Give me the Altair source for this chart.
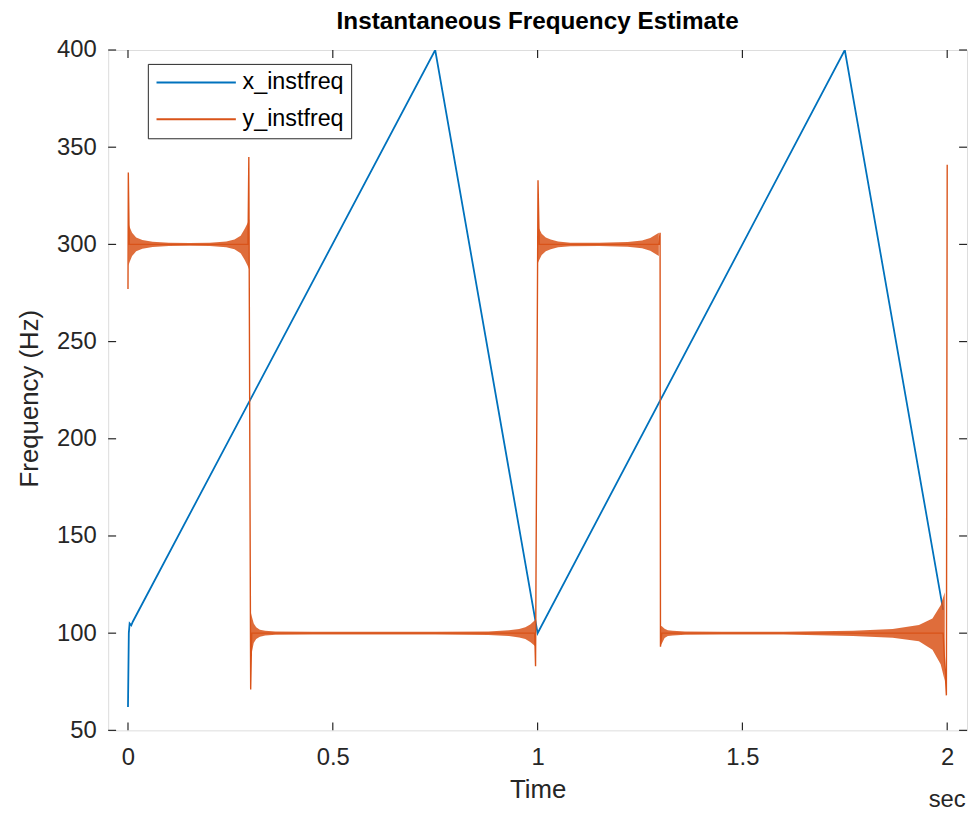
import altair as alt
import pandas as pd

FONT = "Liberation Sans"
AX = "#262626"
BLUE = "#0072BD"
ORANGE = "#D95319"

# ---- data ----
x_time = [0.000, 0.002, 0.004, 0.008, 0.012, 0.750, 1.000, 1.750, 1.990]
x_freq = [62, 100, 105, 104, 106, 400, 100, 400, 112]

y_time = [0.000, 0.0008, 0.003, 0.293, 0.295, 0.2995, 0.302, 0.993, 0.995, 1.001, 1.004,
          1.296, 1.299, 1.300, 1.303, 1.990, 1.998, 2.000]
y_freq = [277, 337, 300, 300, 345, 71, 100, 100, 83, 333, 300,
          300, 306, 93, 100, 100, 68, 341]

# envelopes of the fast ripple around the y_instfreq plateaus
bandA_t = [0.001, 0.004, 0.010, 0.020, 0.035, 0.060, 0.100, 0.150, 0.200, 0.240, 0.260, 0.275, 0.285, 0.292, 0.296]
bandA_hi = [311, 309, 306, 303.5, 302.2, 301.3, 300.8, 300.7, 300.8, 301.5, 302.5, 304.5, 308, 311, 313]
bandA_lo = [289, 291, 294, 296.5, 297.8, 298.7, 299.2, 299.3, 299.2, 298.5, 297.5, 295.5, 292, 289, 287]

bandB_t = [0.2995, 0.303, 0.307, 0.313, 0.322, 0.335, 0.360, 0.450, 0.600, 0.750, 0.880, 0.930, 0.955, 0.970, 0.982, 0.990, 0.995]
bandB_hi = [111, 108, 105, 103, 101.8, 101.2, 100.8, 100.7, 100.7, 100.7, 100.9, 101.5, 102.2, 103, 104.5, 106, 107]
bandB_lo = [87, 91, 95, 97, 98.2, 98.8, 99.2, 99.3, 99.3, 99.3, 99.1, 98.5, 97.8, 97, 95.5, 94, 93]

bandC_t = [1.001, 1.004, 1.010, 1.020, 1.032, 1.050, 1.080, 1.150, 1.220, 1.255, 1.275, 1.288, 1.296]
bandC_hi = [309, 308, 305.5, 303.5, 302.5, 301.5, 300.9, 300.8, 301.2, 302, 303.3, 305, 306]
bandC_lo = [290.5, 292, 294.5, 296.5, 297.5, 298.5, 299.1, 299.2, 298.8, 298, 296.7, 295, 294]

bandD_t = [1.300, 1.304, 1.310, 1.318, 1.330, 1.360, 1.450, 1.600, 1.770, 1.867, 1.931, 1.964, 1.984, 1.994]
bandD_hi = [104, 103.4, 102.3, 101.5, 101.2, 100.8, 100.7, 100.7, 101.2, 102.2, 104.2, 107.6, 114.4, 121]
bandD_lo = [93.5, 95, 97.5, 98.5, 98.8, 99.2, 99.3, 99.3, 98.6, 97.6, 95.9, 91.5, 84, 75.5]

series_names = ["x_instfreq", "y_instfreq"]
x_ticks = [0, 0.5, 1, 1.5, 2]
y_ticks = [50, 100, 150, 200, 250, 300, 350, 400]
x_domain = [-0.0484, 2.0484]
y_domain = [50, 400]

# ---- tables ----
blue_df = pd.DataFrame({"t": x_time, "f": x_freq, "series": series_names[0]})
blue_df["i"] = range(len(blue_df))
orange_df = pd.DataFrame({"t": y_time, "f": y_freq, "series": series_names[1]})
orange_df["i"] = range(len(orange_df))

bands = []
for name, t, hi, lo in [("A", bandA_t, bandA_hi, bandA_lo), ("B", bandB_t, bandB_hi, bandB_lo),
                        ("C", bandC_t, bandC_hi, bandC_lo), ("D", bandD_t, bandD_hi, bandD_lo)]:
    bands.append(pd.DataFrame({"t": t, "hi": hi, "lo": lo, "seg": name}))
band_df = pd.concat(bands, ignore_index=True)

xt_df = pd.DataFrame({"v": x_ticks})
yt_df = pd.DataFrame({"v": y_ticks})
unit_df = pd.DataFrame({"t": [2.0], "label": ["sec"]})

W, H = 866, 686

xscale = alt.Scale(domain=x_domain, nice=False, zero=False)
yscale = alt.Scale(domain=y_domain, nice=False, zero=False)

xaxis = alt.Axis(values=x_ticks, domain=False, ticks=False, grid=False, labelFont=FONT,
                 labelFontSize=24, labelColor=AX, labelPadding=15, labelFlush=False,
                 labelOverlap=False, title="Time", titleFont=FONT, titleFontSize=26,
                 titleFontWeight="normal", titleColor=AX, titleBaseline="middle",
                 titleY=60, format="")
yaxis = alt.Axis(values=y_ticks, domain=False, ticks=False, grid=False, labelFont=FONT,
                 labelFontSize=24, labelColor=AX, labelPadding=12, labelFlush=False,
                 labelOverlap=False, title="Frequency (Hz)", titleFont=FONT, titleFontSize=26,
                 titleFontWeight="normal", titleColor=AX, titleAngle=-90,
                 titleBaseline="middle", titleAlign="center", titleX=-79, titleY=H / 2 + 8)


def X(field="t"):
    return alt.X(f"{field}:Q", scale=xscale, axis=xaxis)


def Y(field="f"):
    return alt.Y(f"{field}:Q", scale=yscale, axis=yaxis)


color = alt.Color("series:N", scale=alt.Scale(domain=series_names, range=[BLUE, ORANGE]),
                  legend=alt.Legend(title=None, orient="none", legendX=40, legendY=14,
                                    symbolType="M-1,0H7", symbolSize=400, symbolStrokeWidth=2,
                                    labelFont=FONT, labelFontSize=23.5, labelColor="#000",
                                    labelOffset=65, strokeColor=AX, fillColor="white",
                                    padding=7, rowPadding=12))

blue = alt.Chart(blue_df).mark_line(strokeWidth=1.8, clip=True).encode(
    x=X(), y=Y(), color=color, order="i:Q")

band = alt.Chart(band_df).mark_area(color=ORANGE, opacity=0.85, clip=True).encode(
    x=X(), y=Y("hi"), y2="lo:Q", detail="seg:N")

orange = alt.Chart(orange_df).mark_line(strokeWidth=1.4, clip=True).encode(
    x=X(), y=Y(), color=color, order="i:Q")

tick_x_bot = alt.Chart(xt_df).mark_rule(color=AX, strokeWidth=1.2).encode(
    x=X("v"), y=alt.value(H), y2=alt.value(H - 8))
tick_x_top = alt.Chart(xt_df).mark_rule(color=AX, strokeWidth=1.2).encode(
    x=X("v"), y=alt.value(0), y2=alt.value(8))
tick_y_left = alt.Chart(yt_df).mark_rule(color=AX, strokeWidth=1.2).encode(
    y=Y("v"), x=alt.value(0), x2=alt.value(8))
tick_y_right = alt.Chart(yt_df).mark_rule(color=AX, strokeWidth=1.2).encode(
    y=Y("v"), x=alt.value(W), x2=alt.value(W - 8))

unit = alt.Chart(unit_df).mark_text(font=FONT, fontSize=24, color=AX, baseline="middle").encode(
    x=X(), y=alt.value(H + 70), text="label:N")

chart = alt.layer(blue, band, orange, tick_x_bot, tick_x_top, tick_y_left, tick_y_right, unit).properties(
    width=W, height=H,
    title=alt.Title("Instantaneous Frequency Estimate", font=FONT, fontSize=24.5, fontWeight="bold",
                    color="#000", anchor="middle", offset=4),
    autosize=alt.AutoSizeParams(type="none"),
    padding={"left": 101, "top": 39, "right": 4, "bottom": 84},
).configure_view(stroke=AX, strokeWidth=1.3).configure(background="white")

chart.save("out.html", embed_options={"renderer": "svg", "actions": False})
